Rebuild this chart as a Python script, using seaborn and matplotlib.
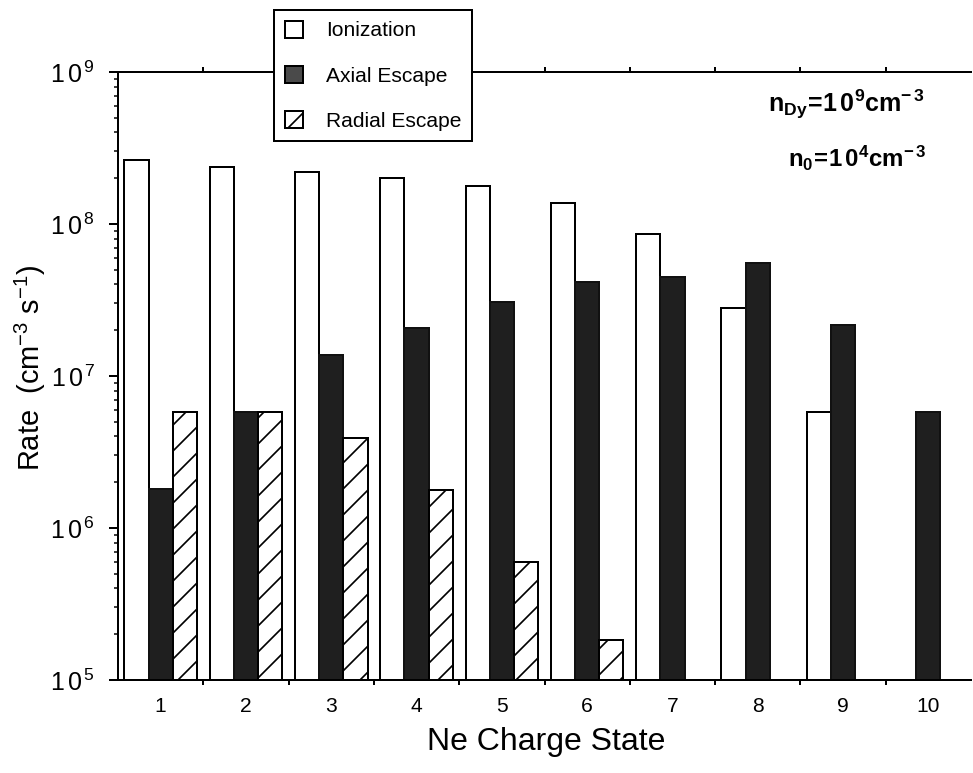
import numpy as np
import pandas as pd
import matplotlib
matplotlib.use("Agg")
import matplotlib.pyplot as plt
from matplotlib.patches import Patch
from matplotlib.ticker import LogLocator, FixedLocator, NullFormatter, FuncFormatter
import seaborn as sns

# ---- data ----
charge_states = ["1", "2", "3", "4", "5", "6", "7", "8", "9", "10"]
ionization = [2.64e8, 2.38e8, 2.19e8, 2.0e8, 1.78e8, 1.38e8, 8.6e7, 2.8e7, 5.8e6, np.nan]
axial_escape = [1.8e6, 5.8e6, 1.37e7, 2.08e7, 3.08e7, 4.13e7, 4.5e7, 5.5e7, 2.17e7, 5.8e6]
radial_escape = [5.8e6, 5.8e6, 3.9e6, 1.78e6, 6.0e5, 1.82e5, np.nan, np.nan, np.nan, np.nan]
series_names = ["Ionization", "Axial Escape", "Radial Escape"]
y_tick_values = [1e5, 1e6, 1e7, 1e8, 1e9]

DPI = 78
W, H = 973, 773
def pt(px):
    return px * 72.0 / DPI

sns.set_theme(style="ticks")
plt.rcParams["font.family"] = ["Liberation Sans", "DejaVu Sans"]
plt.rcParams["mathtext.fontset"] = "custom"
plt.rcParams["mathtext.rm"] = "Liberation Sans"
plt.rcParams["mathtext.it"] = "Liberation Sans:italic"
plt.rcParams["mathtext.bf"] = "Liberation Sans:bold"
plt.rcParams["hatch.linewidth"] = pt(1.7)
plt.rcParams["hatch.color"] = "black"

rows = []
for name, vals in zip(series_names, [ionization, axial_escape, radial_escape]):
    for c, v in zip(charge_states, vals):
        rows.append({"Charge": c, "Series": name, "Rate": v})
df = pd.DataFrame(rows)

fig = plt.figure(figsize=(W / DPI, H / DPI), dpi=DPI)
fig.patch.set_facecolor("white")
ax = fig.add_axes([118 / W, (H - 680) / H, (971 - 118) / W, (680 - 72) / H])

face = {"Ionization": "white", "Axial Escape": "#1f1f1f", "Radial Escape": "white"}
sns.barplot(data=df, x="Charge", y="Rate", hue="Series", order=charge_states,
            hue_order=series_names, palette=face, width=0.85, dodge=True,
            log_scale=True, edgecolor="black", linewidth=pt(2.0),
            saturation=1, legend=False, ax=ax, err_kws={"linewidth": 0})

for cont, name in zip(ax.containers, series_names):
    for p in cont:
        p.set_edgecolor("black")
        p.set_linewidth(pt(2.0))
        if name == "Radial Escape":
            p.set_hatch("/")
        if name == "Axial Escape":
            p.set_edgecolor("#111111")

ax.set_yscale("log")
ax.set_ylim(1e5, 1e9)
ax.set_xlim(-0.5, len(charge_states) - 0.5)

# y axis ticks
ax.yaxis.set_major_locator(FixedLocator(y_tick_values))
ax.yaxis.set_minor_locator(LogLocator(base=10, subs=np.arange(2, 10)))
ax.yaxis.set_minor_formatter(NullFormatter())
ax.yaxis.set_major_formatter(FuncFormatter(lambda v, p: r"$\mathrm{1\,0^{\,%d}}$" % int(round(np.log10(v)))))
ax.tick_params(axis="y", which="major", direction="out", length=8, width=pt(2),
               labelsize=pt(25), pad=pt(14), colors="black")
ax.tick_params(axis="y", which="minor", direction="out", length=4, width=pt(1.5), colors="black")

# x axis: labels at centers, tick marks at group boundaries
ax.set_xticks(range(len(charge_states)))
ax.set_xticklabels(charge_states)
ax.set_xticks(np.arange(0.5, len(charge_states) - 0.5, 1.0), minor=True)
ax.tick_params(axis="x", which="major", length=0, labelsize=pt(21), pad=pt(17), colors="black")
ax.tick_params(axis="x", which="minor", direction="out", length=5, width=pt(2),
               top=True, bottom=True, colors="black")

for s in ["left", "bottom", "top"]:
    ax.spines[s].set_visible(True)
    ax.spines[s].set_linewidth(pt(2))
    ax.spines[s].set_color("black")
ax.spines["right"].set_visible(False)

ax.set_xlabel("Ne Charge State", fontsize=pt(32), color="black")
ax.set_ylabel(r"Rate  (cm$^{-3}$ s$^{-1}$)", fontsize=pt(29), color="black")
ax.xaxis.set_label_coords((546 - 118) / (971 - 118), -(742 - 680) / (680 - 72))
ax.yaxis.set_label_coords((30 - 118) / (971 - 118), (680 - 368) / (680 - 72))
ax.xaxis.label.set_va("center")
ax.yaxis.label.set_va("center")

# annotation
fig.text(846 / W, 1 - 104 / H, r"$\mathbf{n_{Dy}\!=\!1\,0^{9}cm^{-\,3}}$", ha="center", va="center",
         fontsize=pt(25), color="black")
fig.text(857 / W, 1 - 158 / H, r"$\mathbf{n_{0}\!=\!1\,0^{4}cm^{-\,3}}$", ha="center", va="center",
         fontsize=pt(24), color="black")

# legend
handles = [
    Patch(facecolor="white", edgecolor="black", linewidth=pt(2), label=series_names[0]),
    Patch(facecolor="#4a4a4a", edgecolor="black", linewidth=pt(2), label=series_names[1]),
    Patch(facecolor="white", edgecolor="black", linewidth=pt(2), hatch="/", label=series_names[2]),
]
leg = fig.legend(handles=handles, loc="upper left", bbox_to_anchor=(274 / W, 1 - 10 / H),
                 bbox_transform=fig.transFigure, borderaxespad=0, fontsize=pt(21),
                 frameon=True, fancybox=False, shadow=False, framealpha=1,
                 handlelength=0.9, handleheight=0.9, handletextpad=1.1,
                 labelspacing=1.2, borderpad=0.5)
leg.get_frame().set_edgecolor("black")
leg.get_frame().set_linewidth(pt(2))
for t in leg.get_texts():
    t.set_color("black")

fig.savefig("out.png", dpi=DPI, facecolor="white")
